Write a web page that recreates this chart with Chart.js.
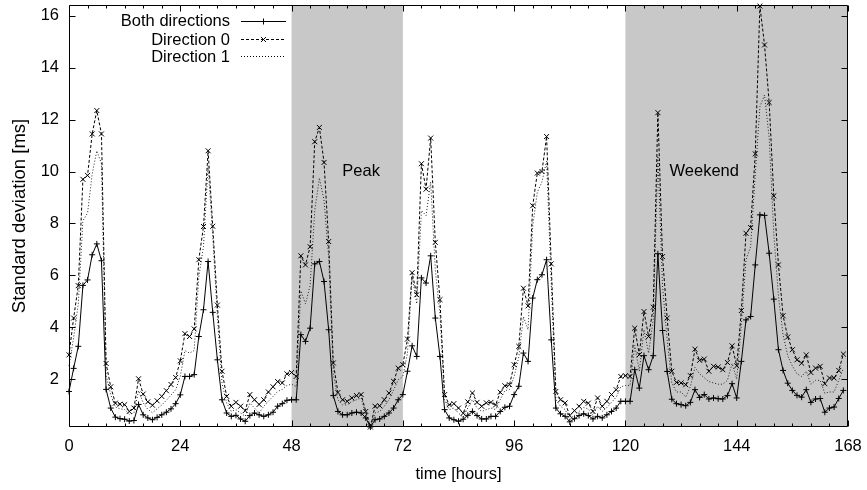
<!DOCTYPE html>
<html>
<head>
<meta charset="utf-8">
<script src="https://cdn.jsdelivr.net/npm/chart.js@4.4.1/dist/chart.umd.min.js"></script>
<style>
  html, body { margin: 0; padding: 0; background: #fff; }
  canvas { display: block; }
</style>
</head>
<body>
<canvas id="chart" width="867" height="490"></canvas>
<script>
// standard deviation per hour over one week, hours 0..167
var both = [1.52, 2.41, 3.26, 5.61, 5.82, 6.79, 7.21, 6.56, 1.6, 0.88,
  0.53, 0.47, 0.45, 0.38, 0.4, 1.02, 0.62, 0.5, 0.43, 0.52,
  0.62, 0.72, 0.85, 1.05, 1.39, 2.1, 2.1, 2.17, 3.64, 4.67,
  6.53, 4.57, 2.74, 1.2, 0.69, 0.56, 0.6, 0.46, 0.37, 0.59,
  0.69, 0.62, 0.56, 0.62, 0.72, 0.95, 1.05, 1.18, 1.2, 1.2,
  3.71, 3.45, 3.96, 6.44, 6.53, 5.76, 3.9, 1.36, 0.75, 0.62,
  0.62, 0.69, 0.72, 0.69, 0.5, 0.15, 0.43, 0.46, 0.56, 0.69,
  0.88, 1.2, 1.4, 2.3, 3.28, 2.87, 5.9, 5.7, 6.75, 4.35,
  2.87, 0.82, 0.5, 0.43, 0.37, 0.45, 0.6, 0.75, 0.59, 0.46,
  0.46, 0.56, 0.56, 0.75, 0.91, 0.95, 1.4, 1.72, 3.0, 2.68,
  5.12, 5.83, 6.02, 6.6, 3.51, 0.88, 0.66, 0.56, 0.35, 0.47,
  0.59, 0.66, 0.59, 0.46, 0.56, 0.5, 0.62, 0.75, 0.88, 1.14,
  1.14, 1.14, 2.36, 1.65, 2.9, 2.36, 2.9, 6.83, 3.87, 2.29,
  1.22, 1.05, 1.01, 0.97, 1.1, 1.59, 1.29, 1.4, 1.23, 1.27,
  1.24, 1.23, 1.36, 1.82, 1.27, 2.68, 4.28, 4.41, 6.4, 8.33,
  8.31, 6.85, 5.08, 3.13, 2.33, 1.84, 1.56, 1.37, 1.3, 1.59,
  1.1, 1.23, 1.25, 0.72, 0.88, 0.92, 1.25, 1.56];

var dir0 = [2.93, 4.35, 5.6, 9.7, 9.85, 11.45, 12.35, 11.45, 2.6, 1.7,
  1.07, 1.03, 1.01, 0.75, 0.88, 2.01, 1.42, 1.12, 0.99, 1.16,
  1.33, 1.55, 1.79, 2.06, 2.7, 3.75, 3.64, 3.93, 6.6, 7.88,
  10.8, 7.89, 4.85, 2.3, 1.33, 0.95, 1.1, 0.95, 0.78, 1.4,
  1.2, 1.02, 1.2, 1.5, 1.7, 1.9, 1.85, 2.2, 2.25, 2.1,
  6.75, 6.4, 7.1, 11.15, 11.7, 10.35, 7.3, 2.62, 1.48, 1.2,
  1.14, 1.27, 1.36, 1.4, 0.75, 0.15, 0.95, 0.97, 1.2, 1.46,
  1.91, 2.42, 2.55, 3.54, 6.1, 5.25, 10.3, 9.32, 11.29, 7.27,
  5.06, 1.4, 1.01, 1.05, 0.88, 0.68, 1.12, 1.46, 1.1, 0.95,
  1.08, 1.1, 1.0, 1.49, 1.74, 1.78, 2.55, 3.26, 5.5, 4.82,
  8.68, 9.94, 10.0, 11.35, 6.44, 1.52, 1.2, 1.08, 0.59, 0.78,
  0.95, 1.14, 1.07, 0.75, 1.27, 0.95, 1.14, 1.4, 1.59, 2.1,
  2.13, 2.1, 3.96, 2.94, 4.6, 3.64, 4.77, 12.27, 6.72, 4.35,
  2.3, 1.87, 1.85, 1.78, 2.13, 3.15, 2.72, 2.77, 2.3, 2.49,
  2.46, 2.36, 2.64, 3.28, 2.51, 4.64, 7.62, 7.84, 10.68, 16.38,
  14.88, 12.66, 9.06, 6.4, 4.44, 3.62, 3.13, 2.74, 2.61, 2.93,
  2.25, 2.42, 2.49, 1.82, 2.04, 2.04, 2.33, 2.96];

var dir1 = [2.5, 3.6, 4.9, 8.1, 8.4, 9.9, 10.8, 10.3, 2.15, 1.4,
  0.92, 0.85, 0.82, 0.64, 0.69, 1.55, 1.08, 0.83, 0.7, 0.85,
  1.0, 1.18, 1.38, 1.58, 2.1, 3.1, 3.0, 3.1, 5.95, 7.1,
  10.2, 7.5, 4.4, 1.85, 1.07, 0.75, 0.82, 0.69, 0.56, 1.07,
  0.88, 0.69, 0.95, 1.14, 1.33, 1.52, 1.6, 1.75, 1.8, 1.7,
  5.4, 4.9, 5.6, 8.5, 9.75, 8.9, 6.7, 2.2, 1.2, 1.0,
  1.0, 1.14, 1.2, 1.27, 0.62, 0.15, 0.69, 0.75, 0.95, 1.2,
  1.58, 1.97, 2.1, 3.0, 5.95, 4.9, 8.5, 8.3, 9.6, 6.2,
  4.5, 1.2, 0.82, 0.88, 0.69, 0.52, 0.88, 1.2, 0.88, 0.75,
  0.82, 0.88, 0.82, 1.2, 1.55, 1.6, 2.1, 2.85, 4.4, 3.9,
  7.9, 9.2, 9.6, 10.4, 5.7, 1.2, 0.95, 0.82, 0.45, 0.6,
  0.75, 0.9, 0.85, 0.6, 0.95, 0.75, 0.9, 1.1, 1.3, 1.7,
  1.75, 1.75, 3.3, 2.3, 3.9, 3.0, 4.3, 10.6, 5.6, 3.5,
  1.85, 1.5, 1.5, 1.3, 1.7, 2.45, 2.2, 2.05, 1.9, 1.85,
  1.8, 1.8, 1.95, 2.6, 2.0, 4.1, 6.6, 7.1, 9.9, 12.5,
  12.95, 11.3, 7.6, 5.2, 3.7, 2.9, 2.5, 2.2, 2.1, 2.3,
  1.8, 1.95, 1.95, 1.45, 1.5, 1.5, 1.95, 2.4];

var hours = both.map(function (v, i) { return i; });
var xTicks = [0, 24, 48, 72, 96, 120, 144, 168];
var yTicks = [2, 4, 6, 8, 10, 12, 14, 16];
var peakHours = [48, 72];
var weekendHours = [120, 168];
var seriesNames = ['Both directions', 'Direction 0', 'Direction 1'];

var FONT = '"Liberation Sans", Arial, Helvetica, sans-serif';
var FS = 16.5;
Chart.defaults.font.family = FONT;
Chart.defaults.font.size = FS;
Chart.defaults.color = '#000';

var framePlugin = {
  id: 'frame',
  beforeDatasetsDraw: function (chart) {
    var ctx = chart.ctx, a = chart.chartArea;
    var xs = chart.scales.x, ys = chart.scales.y;
    ctx.save();
    ctx.fillStyle = '#c8c8c8';
    [peakHours, weekendHours].forEach(function (r) {
      var x0 = xs.getPixelForValue(r[0]), x1 = xs.getPixelForValue(r[1]);
      ctx.fillRect(x0, a.top, x1 - x0, a.bottom - a.top);
    });
    ctx.fillStyle = '#000';
    ctx.font = FS + 'px ' + FONT;
    ctx.textAlign = 'center';
    ctx.textBaseline = 'middle';
    ctx.fillText('Peak', xs.getPixelForValue(63), ys.getPixelForValue(10));
    ctx.fillText('Weekend', xs.getPixelForValue(137), ys.getPixelForValue(10));
    ctx.restore();
  },
  afterDatasetsDraw: function (chart) {
    var ctx = chart.ctx, a = chart.chartArea;
    var xs = chart.scales.x, ys = chart.scales.y;
    ctx.save();
    ctx.strokeStyle = '#000';
    ctx.lineWidth = 1;
    ctx.setLineDash([]);
    var L = Math.round(a.left) + 0.5, R = Math.round(a.right) - 0.5;
    var T = Math.round(a.top) + 0.5, B = Math.round(a.bottom) - 0.5;
    ctx.beginPath();
    ctx.rect(L, T, R - L, B - T);
    // x ticks, major and minor (every 4 h), mirrored on top
    for (var h = 0; h <= 168; h += 4) {
      var len = xTicks.indexOf(h) >= 0 ? 6 : 3;
      var px = Math.round(xs.getPixelForValue(h)) + 0.5;
      ctx.moveTo(px, B); ctx.lineTo(px, B - len);
      ctx.moveTo(px, T); ctx.lineTo(px, T + len);
    }
    yTicks.forEach(function (v) {
      var py = Math.round(ys.getPixelForValue(v)) + 0.5;
      ctx.moveTo(L, py); ctx.lineTo(L + 6, py);
      ctx.moveTo(R, py); ctx.lineTo(R - 6, py);
    });
    ctx.stroke();

    // key, top left inside the plot
    var textRight = a.left + 161, lx0 = a.left + 172, lx1 = a.left + 217;
    var rows = [a.top + 15.5, a.top + 34, a.top + 51];
    ctx.font = FS + 'px ' + FONT;
    ctx.textAlign = 'right';
    ctx.textBaseline = 'middle';
    chart.data.datasets.forEach(function (ds, i) {
      var yy = Math.round(rows[i]) + 0.5;
      ctx.fillStyle = '#000';
      ctx.fillText(seriesNames[i], textRight, rows[i] + 1);
      ctx.setLineDash(ds.borderDash || []);
      ctx.beginPath();
      ctx.moveTo(lx0, yy); ctx.lineTo(lx1, yy);
      ctx.stroke();
      ctx.setLineDash([]);
      if (ds.pointRadius > 0) {
        Chart.helpers.drawPoint(ctx, {
          pointStyle: ds.pointStyle, radius: ds.pointRadius, rotation: 0, borderWidth: 1
        }, (lx0 + lx1) / 2, yy);
      }
    });
    ctx.restore();
  }
};

var ctx = document.getElementById('chart').getContext('2d');
new Chart(ctx, {
  type: 'line',
  data: {
    labels: hours,
    datasets: [
      {
        label: seriesNames[0], data: both,
        borderColor: '#000', borderWidth: 1, backgroundColor: '#000',
        pointStyle: 'cross', pointRadius: 3, pointBorderWidth: 1,
        pointBorderColor: '#000', fill: false, tension: 0, clip: false
      },
      {
        label: seriesNames[1], data: dir0,
        borderColor: '#000', borderWidth: 1, borderDash: [3, 2], backgroundColor: '#000',
        pointStyle: 'crossRot', pointRadius: 3.5, pointBorderWidth: 1,
        pointBorderColor: '#000', fill: false, tension: 0, clip: false
      },
      {
        label: seriesNames[2], data: dir1,
        borderColor: '#222', borderWidth: 1, borderDash: [1, 2],
        pointRadius: 0, fill: false, tension: 0, clip: false
      }
    ]
  },
  options: {
    responsive: false,
    animation: false,
    events: [],
    layout: { padding: { top: 5, right: 19, left: 0, bottom: 0 } },
    plugins: { legend: { display: false }, tooltip: { enabled: false } },
    scales: {
      x: {
        type: 'linear', min: 0, max: 168,
        afterBuildTicks: function (s) { s.ticks = xTicks.map(function (v) { return { value: v }; }); },
        afterFit: function (s) { s.height = 63; s.paddingLeft = 0; s.paddingRight = 0; },
        grid: { display: false, drawTicks: false },
        border: { display: false },
        ticks: { padding: 10, maxRotation: 0, autoSkip: false },
        title: { display: true, text: 'time [hours]', padding: { top: 0, bottom: 6 } }
      },
      y: {
        type: 'linear', min: 0.15, max: 16.42,
        afterBuildTicks: function (s) { s.ticks = yTicks.map(function (v) { return { value: v }; }); },
        afterFit: function (s) { s.width = 69; s.paddingTop = 0; s.paddingBottom = 0; },
        grid: { display: false, drawTicks: false },
        border: { display: false },
        ticks: { padding: 10, autoSkip: false },
        title: { display: true, text: 'Standard deviation [ms]', font: { size: 18.5 }, padding: { top: 9, bottom: 0 } }
      }
    }
  },
  plugins: [framePlugin]
});
</script>
</body>
</html>
